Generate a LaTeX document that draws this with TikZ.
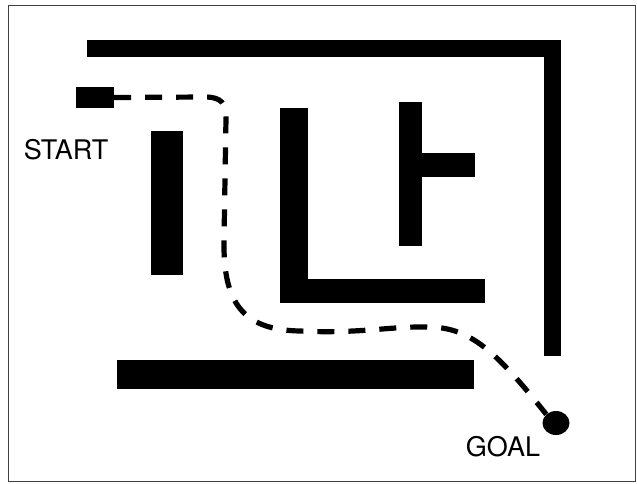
\documentclass[tikz,border=0pt]{standalone}
\usepackage{fontspec}
\setmainfont{TeX Gyre Heros}
\usetikzlibrary{positioning, shapes.geometric}

\begin{document}
\begin{tikzpicture}[x=1pt, y=-1pt,
    wall/.style={fill=black},
    path line/.style={line width=5.2pt, dash pattern=on 17pt off 14pt, black},
    label text/.style={font=\fontsize{27}{27}\selectfont, inner sep=0pt}]
    \useasboundingbox (0,0) rectangle (637,483);
    % frame
    \draw[line width=0.9pt, black!75] (8,5) rectangle (635,481);

    % walls
    \fill[wall] (87,40) rectangle (561,57);
    \fill[wall] (544,40) rectangle (561,356);
    \fill[wall] (151,131) rectangle (183,275);
    \fill[wall] (280,108) rectangle (308,303);
    \fill[wall] (280,279) rectangle (485,303);
    \fill[wall] (399,102) rectangle (422,246);
    \fill[wall] (399,153) rectangle (475,177);
    \fill[wall] (117,360) rectangle (474,389);

    % start and goal
    \node[fill=black, minimum width=38pt, minimum height=21pt, inner sep=0pt] (start) at (95,97.5) {};
    \node[fill=black, ellipse, minimum width=27pt, minimum height=24pt, inner sep=0pt] (goal) at (556,423) {};
    \node[label text] (startlabel) at (66,150) {START};
    \node[label text] (goallabel) at (503,447) {GOAL};

    % route
    \draw[path line] (start.east) -- (205,97)
        .. controls (222,97) and (226,104) .. (226,118)
        -- (224,240)
        .. controls (223,302) and (242,330) .. (300,331)
        .. controls (360,334) and (390,326) .. (430,327)
        .. controls (470,328) and (495,350) .. (goal.north west);
\end{tikzpicture}
\end{document}
